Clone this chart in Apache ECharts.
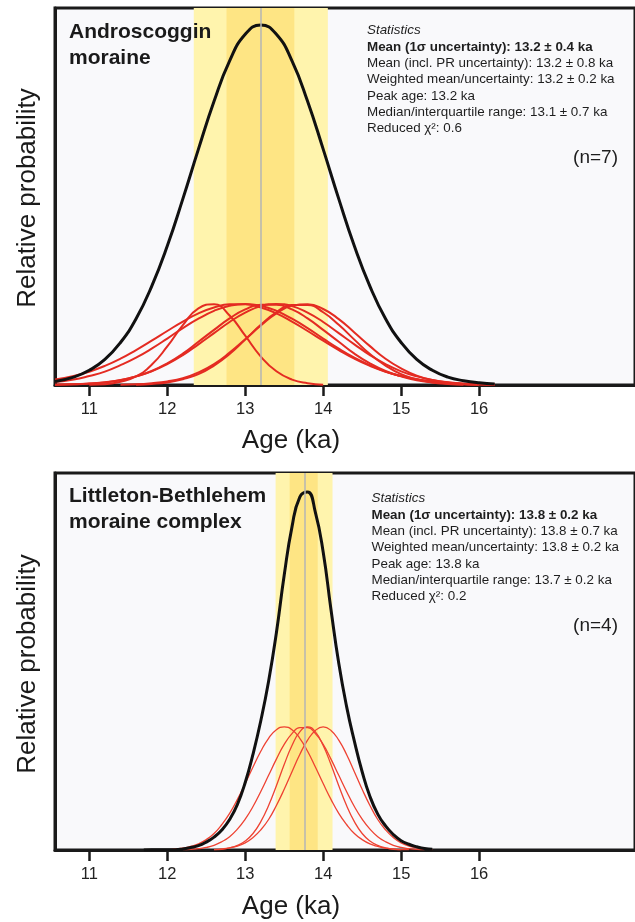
<!DOCTYPE html>
<html>
<head>
<meta charset="utf-8">
<script src="https://cdn.jsdelivr.net/npm/echarts@6/dist/echarts.min.js"></script>
<style>
  html, body { margin: 0; padding: 0; background: #fff; }
  #chart { width: 635px; height: 922px; }
</style>
</head>
<body>
<div id="chart"></div>
<script>
// ---- data ----
const tickValues = [11, 12, 13, 14, 15, 16];

// Androscoggin moraine (n=7)
const topAges = [10.56, 10.8, 11.0, 11.2, 11.4, 11.6, 11.8, 12.0, 12.2, 12.4, 12.6, 12.8, 13.0, 13.2, 13.4,
  13.6, 13.8, 14.0, 14.2, 14.4, 14.6, 14.8, 15.0, 15.2, 15.4, 15.6, 15.8, 16.0, 16.2];
const topSum = [0.010, 0.022, 0.041, 0.071, 0.118, 0.184, 0.274, 0.386, 0.517, 0.655, 0.788, 0.900, 0.974, 1.000, 0.974,
  0.900, 0.788, 0.655, 0.517, 0.386, 0.274, 0.184, 0.118, 0.071, 0.041, 0.022, 0.012, 0.006, 0.003];
const topSampleA = [null, null, 0.001, 0.002, 0.009, 0.024, 0.056, 0.107, 0.166, 0.213, 0.224, 0.193, 0.137, 0.079, 0.038,
  0.015, 0.005, 0.001, null, null, null, null, null, null, null, null, null, null, null];
const topSampleB = [0.015, 0.025, 0.037, 0.053, 0.073, 0.097, 0.123, 0.150, 0.176, 0.199, 0.215, 0.224, 0.224, 0.215, 0.199,
  0.176, 0.150, 0.123, 0.097, 0.073, 0.053, 0.037, 0.025, 0.016, 0.010, 0.006, 0.003, 0.002, 0.001];
const topSampleC = [0.008, 0.015, 0.025, 0.037, 0.055, 0.076, 0.101, 0.129, 0.158, 0.184, 0.206, 0.220, 0.225, 0.220, 0.206,
  0.184, 0.158, 0.129, 0.101, 0.076, 0.055, 0.037, 0.025, 0.015, 0.009, 0.005, 0.003, 0.002, 0.001];
const topSampleD = [0.001, 0.002, 0.004, 0.007, 0.013, 0.024, 0.039, 0.060, 0.087, 0.120, 0.153, 0.185, 0.210, 0.223, 0.223,
  0.210, 0.185, 0.153, 0.120, 0.087, 0.060, 0.039, 0.024, 0.013, 0.007, 0.004, 0.002, 0.001, null];
const topSampleE = [0.001, 0.002, 0.004, 0.008, 0.014, 0.024, 0.038, 0.058, 0.083, 0.113, 0.144, 0.175, 0.201, 0.219, 0.225,
  0.219, 0.201, 0.175, 0.144, 0.113, 0.083, 0.058, 0.038, 0.024, 0.014, 0.008, 0.004, 0.002, 0.001];
const topSampleF = [null, null, null, null, null, 0.001, 0.003, 0.007, 0.016, 0.030, 0.054, 0.086, 0.126, 0.167, 0.202,
  0.222, 0.222, 0.202, 0.167, 0.126, 0.086, 0.054, 0.030, 0.016, 0.007, 0.003, 0.001, null, null];
const topSampleG = [null, null, null, null, 0.001, 0.002, 0.005, 0.010, 0.019, 0.035, 0.058, 0.090, 0.127, 0.165, 0.199,
  0.220, 0.224, 0.211, 0.183, 0.146, 0.108, 0.073, 0.046, 0.026, 0.014, 0.007, 0.003, 0.001, null];
const topBand = { outer: [12.34, 14.06], inner: [12.76, 13.63], mean: 13.2 };

// Littleton-Bethlehem moraine complex (n=4)
const bottomAges = [11.7, 11.8, 11.9, 12.0, 12.1, 12.2, 12.3, 12.4, 12.5, 12.6, 12.7, 12.8, 12.9, 13.0, 13.1, 13.2, 13.3,
  13.4, 13.5, 13.6, 13.7, 13.8, 13.9, 14.0, 14.1, 14.2, 14.3, 14.4, 14.5, 14.6, 14.7, 14.8, 14.9, 15.0, 15.1, 15.2, 15.3, 15.4];
const bottomSum = [0.000, 0.001, 0.001, 0.001, 0.001, 0.003, 0.007, 0.012, 0.022, 0.036, 0.056, 0.085, 0.127, 0.188, 0.267,
  0.360, 0.470, 0.605, 0.765, 0.900, 0.983, 0.997, 0.940, 0.830, 0.670, 0.520, 0.400, 0.303, 0.218, 0.149, 0.100, 0.067,
  0.043, 0.026, 0.016, 0.009, 0.004, 0.002];
const bottomSampleA = [null, null, 0.001, 0.001, 0.003, 0.005, 0.010, 0.017, 0.029, 0.046, 0.071, 0.102, 0.141, 0.185, 0.231,
  0.275, 0.311, 0.335, 0.343, 0.335, 0.311, 0.275, 0.231, 0.185, 0.141, 0.102, 0.071, 0.046, 0.029, 0.017, 0.010, 0.005,
  0.003, 0.001, 0.001, null, null, null];
const bottomSampleB = [null, null, null, null, null, 0.001, 0.002, 0.004, 0.007, 0.013, 0.023, 0.037, 0.058, 0.086, 0.121,
  0.163, 0.208, 0.253, 0.294, 0.324, 0.341, 0.341, 0.324, 0.294, 0.253, 0.208, 0.163, 0.121, 0.086, 0.058, 0.037, 0.023,
  0.013, 0.007, 0.004, 0.002, 0.001, null];
const bottomSampleC = [null, null, null, null, null, null, null, null, null, 0.001, 0.002, 0.006, 0.013, 0.025, 0.046,
  0.079, 0.124, 0.179, 0.238, 0.291, 0.329, 0.343, 0.329, 0.291, 0.238, 0.179, 0.124, 0.079, 0.046, 0.025, 0.013, 0.006,
  0.002, 0.001, null, null, null, null];
const bottomSampleD = [null, null, null, null, null, null, null, null, null, 0.001, 0.003, 0.006, 0.011, 0.020, 0.035,
  0.056, 0.085, 0.124, 0.169, 0.218, 0.266, 0.306, 0.333, 0.343, 0.333, 0.306, 0.266, 0.218, 0.169, 0.124, 0.085, 0.056,
  0.035, 0.020, 0.011, 0.006, 0.003, 0.001];
const bottomBand = { outer: [13.39, 14.12], inner: [13.57, 13.93], mean: 13.77 };

const topStats = [
  'Mean (1σ uncertainty): 13.2 ± 0.4 ka',
  'Mean (incl. PR uncertainty): 13.2 ± 0.8 ka',
  'Weighted mean/uncertainty: 13.2 ± 0.2 ka',
  'Peak age: 13.2 ka',
  'Median/interquartile range: 13.1 ± 0.7 ka',
  'Reduced χ²: 0.6'
];
const bottomStats = [
  'Mean (1σ uncertainty): 13.8 ± 0.2 ka',
  'Mean (incl. PR uncertainty): 13.8 ± 0.7 ka',
  'Weighted mean/uncertainty: 13.8 ± 0.2 ka',
  'Peak age: 13.8 ka',
  'Median/interquartile range: 13.7 ± 0.2 ka',
  'Reduced χ²: 0.2'
];

// ---- styling ----
const FONT = '"Liberation Sans", Arial, Helvetica, sans-serif';
const INK = '#1a1a1a';
const LIGHT_BAND = '#fff4ad';
const DARK_BAND = '#fee584';

function pairs(ages, vals) {
  return ages.map((a, i) => [a, vals[i]]);
}

function makeAxes(idx) {
  return {
    x: {
      type: 'value', gridIndex: idx, min: 10.56, max: 18.0,
      axisLine: { show: true, onZero: false, lineStyle: { color: INK, width: 3 } },
      axisTick: { show: true, customValues: tickValues, length: 11, lineStyle: { color: INK, width: 2.5 } },
      axisLabel: { customValues: tickValues, margin: 16, fontSize: 16.5, color: '#222', fontFamily: FONT },
      splitLine: { show: false }
    },
    y: {
      type: 'value', gridIndex: idx, min: 0, max: idx === 0 ? 1.047 : 1.05,
      axisLine: { show: true, lineStyle: { color: INK, width: 3 } },
      axisTick: { show: false }, axisLabel: { show: false }, splitLine: { show: false }
    }
  };
}

function panelSeries(idx, ages, sum, samples, band, redWidth, redColor) {
  const list = [];
  // uncertainty bands and mean line
  list.push({
    type: 'line', xAxisIndex: idx, yAxisIndex: idx, z: 1, data: [],
    markArea: {
      silent: true,
      data: [
        [{ xAxis: band.outer[0], itemStyle: { color: LIGHT_BAND } }, { xAxis: band.outer[1] }],
        [{ xAxis: band.inner[0], itemStyle: { color: DARK_BAND } }, { xAxis: band.inner[1] }]
      ]
    },
    markLine: {
      silent: true, symbol: ['none', 'none'], label: { show: false },
      lineStyle: { color: '#b4b4b4', width: 1.5, type: 'solid' },
      data: [{ xAxis: band.mean }]
    }
  });
  samples.forEach((s) => {
    list.push({
      type: 'line', xAxisIndex: idx, yAxisIndex: idx, z: 3,
      data: pairs(ages, s), smooth: true, showSymbol: false,
      lineStyle: { color: redColor, width: redWidth }
    });
  });
  list.push({
    type: 'line', xAxisIndex: idx, yAxisIndex: idx, z: 4,
    data: pairs(ages, sum), smooth: true, showSymbol: false,
    lineStyle: { color: '#111', width: 3 }
  });
  return list;
}

function statsText(x, y, lines, n) {
  const rows = ['{it|Statistics}', '{b|' + lines[0] + '}'].concat(lines.slice(1).map(l => '{n|' + l + '}'));
  const base = { fontSize: 13.4, lineHeight: 16.3, fontFamily: FONT, fill: '#1e1e1e' };
  return [
    {
      type: 'text', x: x, y: y, z: 100,
      style: {
        text: rows.join('\n'),
        rich: {
          it: Object.assign({ fontStyle: 'italic' }, base),
          b: Object.assign({ fontWeight: 'bold' }, base),
          n: base
        },
        verticalAlign: 'top', textVerticalAlign: 'top'
      }
    },
    {
      type: 'text', x: 618, y: y + 135, z: 100,
      style: {
        text: '(n=' + n + ')', fontSize: 19, fontFamily: FONT, fill: '#1e1e1e',
        align: 'right', textAlign: 'right', verticalAlign: 'middle', textVerticalAlign: 'middle'
      }
    }
  ];
}

function labelText(x, y, text, size, rotate) {
  return {
    type: 'text', x: x, y: y, z: 100, rotation: rotate ? Math.PI / 2 : 0,
    style: {
      text: text, fontSize: size, fontFamily: FONT, fill: INK,
      align: 'center', textAlign: 'center', verticalAlign: 'middle', textVerticalAlign: 'middle'
    }
  };
}

function titleText(x, y, text) {
  return {
    type: 'text', x: x, y: y, z: 100,
    style: {
      text: text, fontSize: 21, fontWeight: 'bold', fontFamily: FONT, fill: INK, lineHeight: 26,
      verticalAlign: 'top', textVerticalAlign: 'top'
    }
  };
}

const axesTop = makeAxes(0);
const axesBottom = makeAxes(1);

const option = {
  animation: false,
  backgroundColor: '#ffffff',
  grid: [
    { left: 55, top: 8, width: 626.4, height: 377, show: true, backgroundColor: '#f9f9fb', borderColor: INK, borderWidth: 3 },
    { left: 55, top: 473, width: 626.4, height: 377, show: true, backgroundColor: '#f9f9fb', borderColor: INK, borderWidth: 3 }
  ],
  xAxis: [axesTop.x, axesBottom.x],
  yAxis: [axesTop.y, axesBottom.y],
  series: [].concat(
    panelSeries(0, topAges, topSum,
      [topSampleA, topSampleB, topSampleC, topSampleD, topSampleE, topSampleF, topSampleG],
      topBand, 2, '#e42b22'),
    panelSeries(1, bottomAges, bottomSum,
      [bottomSampleA, bottomSampleB, bottomSampleC, bottomSampleD],
      bottomBand, 1.3, '#ee4232')
  ),
  graphic: [].concat(
    [titleText(69, 19, 'Androscoggin\nmoraine'), titleText(69, 483, 'Littleton-Bethlehem\nmoraine complex')],
    statsText(367, 22.5, topStats, 7),
    statsText(371.5, 490.5, bottomStats, 4),
    [
      labelText(28, 198, 'Relative probability', 26, true),
      labelText(28, 664, 'Relative probability', 26, true),
      labelText(291, 441, 'Age (ka)', 26, false),
      labelText(291, 907, 'Age (ka)', 26, false)
    ]
  )
};

const chart = echarts.init(document.getElementById('chart'), null, { renderer: 'canvas' });
chart.setOption(option);

window.addEventListener('resize', () => chart.resize(), { passive: true });
</script>
</body>
</html>
